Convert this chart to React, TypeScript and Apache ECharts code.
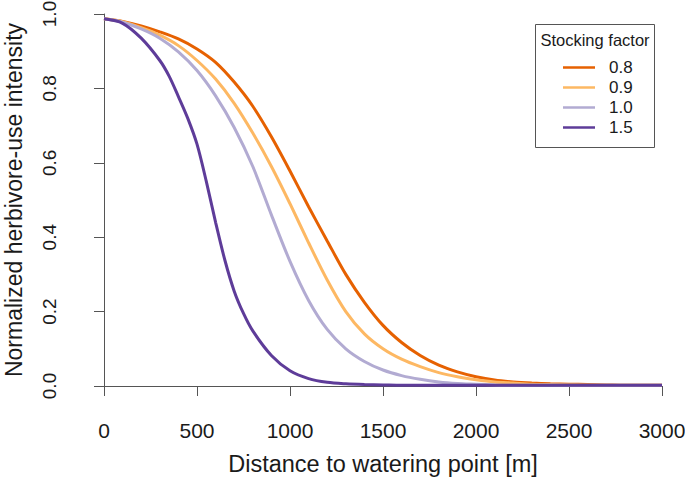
import React, { useEffect, useRef } from "react";
import * as echarts from "echarts";

const distance = [0, 100, 200, 300, 400, 500, 600, 700, 800, 900, 1000, 1100, 1200, 1300, 1400, 1500, 1600, 1700, 1800, 1900, 2000, 2100, 2200, 2300, 2400, 2500, 2600, 2700, 2800, 2900, 3000];
const distance15 = [0, 100, 200, 300, 350, 400, 450, 500, 550, 600, 650, 700, 750, 800, 900, 1000, 1100, 1200, 1300, 1400, 1500, 1600, 1700, 1800, 1900, 2000, 2100, 2200, 2300, 2400, 2500, 2600, 2700, 2800, 2900, 3000];

const factors = ["0.8", "0.9", "1.0", "1.5"];
const colors = ["#e66101", "#fdb863", "#b2abd2", "#5e3c99"];

const f08 = [0.987, 0.98, 0.968, 0.952, 0.933, 0.906, 0.87, 0.817, 0.752, 0.67, 0.578, 0.482, 0.39, 0.3, 0.225, 0.163, 0.117, 0.082, 0.056, 0.038, 0.025, 0.016, 0.011, 0.008, 0.006, 0.005, 0.004, 0.003, 0.002, 0.002, 0.002];
const f09 = [0.987, 0.979, 0.963, 0.943, 0.915, 0.875, 0.825, 0.76, 0.68, 0.59, 0.49, 0.385, 0.285, 0.2, 0.14, 0.1, 0.072, 0.052, 0.036, 0.025, 0.017, 0.011, 0.008, 0.005, 0.004, 0.003, 0.002, 0.002, 0.002, 0.002, 0.002];
const f10 = [0.987, 0.978, 0.96, 0.935, 0.898, 0.848, 0.78, 0.695, 0.59, 0.46, 0.335, 0.23, 0.152, 0.1, 0.066, 0.043, 0.028, 0.018, 0.011, 0.007, 0.005, 0.003, 0.002, 0.002, 0.002, 0.002, 0.002, 0.002, 0.002, 0.002, 0.002];
const f15 = [0.987, 0.975, 0.935, 0.875, 0.833, 0.778, 0.72, 0.65, 0.55, 0.44, 0.338, 0.255, 0.195, 0.148, 0.082, 0.041, 0.02, 0.01, 0.006, 0.004, 0.003, 0.002, 0.002, 0.002, 0.002, 0.002, 0.002, 0.002, 0.002, 0.002, 0.002, 0.002, 0.002, 0.002, 0.002, 0.002];
const seriesValues = [f08, f09, f10, f15];
const seriesDistances = [distance, distance, distance, distance15];

const xTickMin = 0;
const xTickMax = 3000;
const xTickStep = 500;
const yTickMin = 0;
const yTickMax = 1;
const yTickStep = 0.2;

const FONT = "'Liberation Sans', Arial, Helvetica, sans-serif";
const AXIS_COLOR = "#555";
const TEXT_COLOR = "#1a1a1a";

export default function App() {
  const ref = useRef<HTMLDivElement>(null);
  useEffect(() => {
    const chart = echarts.init(ref.current!, null, { renderer: "svg" });
    chart.setOption({
      animation: false,
      backgroundColor: "#fff",
      textStyle: { fontFamily: FONT },
      grid: { left: 104, top: 14, width: 558, height: 372, containLabel: false, outerBoundsMode: "none" },
      xAxis: {
        type: "value",
        min: xTickMin,
        max: xTickMax,
        interval: xTickStep,
        offset: 15,
        name: "Distance to watering point [m]",
        nameLocation: "middle",
        nameGap: 51,
        nameTextStyle: { fontSize: 23.5, color: TEXT_COLOR, fontFamily: FONT },
        axisLine: { show: true, lineStyle: { color: AXIS_COLOR, width: 1 } },
        axisTick: { show: true, length: 10, lineStyle: { color: AXIS_COLOR, width: 1 } },
        axisLabel: {
          fontSize: 21,
          color: TEXT_COLOR,
          margin: 19,
          fontFamily: FONT,
          formatter: (v: number) => String(v),
        },
        splitLine: { show: false },
      },
      yAxis: {
        type: "value",
        min: yTickMin,
        max: yTickMax,
        interval: yTickStep,
        offset: 22,
        name: "Normalized herbivore-use intensity",
        nameLocation: "middle",
        nameRotate: 90,
        nameGap: 57,
        nameTextStyle: { fontSize: 23, color: TEXT_COLOR, fontFamily: FONT },
        axisLine: { show: true, lineStyle: { color: AXIS_COLOR, width: 1 } },
        axisTick: { show: true, length: 10, lineStyle: { color: AXIS_COLOR, width: 1 } },
        axisLabel: {
          fontSize: 19,
          color: TEXT_COLOR,
          rotate: 90,
          margin: 23,
          fontFamily: FONT,
          formatter: (v: number) => v.toFixed(1),
        },
        splitLine: { show: false },
      },
      legend: {
        data: factors,
        orient: "vertical",
        left: 563,
        top: 57.5,
        padding: 0,
        itemGap: 0,
        itemWidth: 32,
        itemHeight: 2.5,
        icon: "rect",
        selectedMode: false,
        textStyle: {
          fontSize: 17,
          color: TEXT_COLOR,
          lineHeight: 20,
          padding: [0, 0, 0, 9],
          fontFamily: FONT,
        },
      },
      graphic: [
        {
          type: "rect",
          shape: { x: 535.5, y: 24.5, width: 119, height: 123 },
          style: { fill: "none", stroke: AXIS_COLOR, lineWidth: 1 },
          silent: true,
        },
        {
          type: "text",
          x: 595,
          y: 40,
          style: {
            text: "Stocking factor",
            fontSize: 16.5,
            fill: TEXT_COLOR,
            fontFamily: FONT,
            align: "center",
            verticalAlign: "middle",
          },
          silent: true,
        },
      ],
      series: factors.map((name, i) => ({
        name,
        type: "line",
        data: seriesDistances[i].map((d, j) => [d, seriesValues[i][j]]),
        smooth: 0.3,
        showSymbol: false,
        symbol: "none",
        clip: false,
        color: colors[i],
        lineStyle: { color: colors[i], width: 3 },
        z: 2 + i,
      })),
    });
    return () => chart.dispose();
  }, []);
  return (
    <div
      ref={ref}
      style={{ position: "fixed", left: 0, top: 0, width: 685, height: 480, background: "#fff" }}
    />
  );
}
